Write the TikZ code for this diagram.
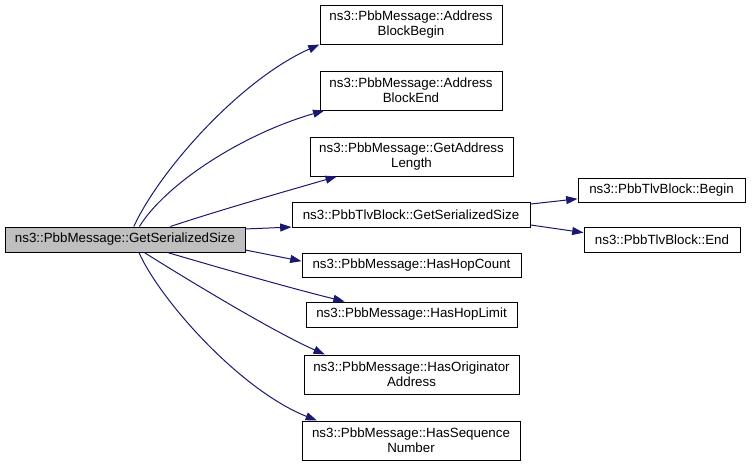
\documentclass[tikz,border=0pt]{standalone}
\usepackage{fontspec}
\setmainfont{Liberation Sans}
\usepackage[svgnames]{xcolor}
\usetikzlibrary{arrows.meta}

\begin{document}
\begin{tikzpicture}[x=0.75pt, y=-0.75pt, font=\fontsize{10}{11.25}\selectfont,
        fn/.style={draw, line width=0.75pt, inner sep=0pt, align=center},
        boxsize/.style 2 args={minimum width=#1*0.75pt, minimum height=#2*0.75pt},
        call/.style={color=MidnightBlue, line width=0.75pt, -{Triangle[length=8.5pt,width=6pt]}}]
        \useasboundingbox (0,0) rectangle (752,465);
        % caller
        \node[fn, fill=black!25, boxsize={240}{25}] (main) at (125,239.5) {ns3::PbbMessage::GetSerializedSize};
        % callees
        \node[fn, boxsize={182}{39}] (abb) at (411,24.5) {ns3::PbbMessage::Address\\BlockBegin};
        \node[fn, boxsize={182}{39}] (abe) at (411,90.5) {ns3::PbbMessage::Address\\BlockEnd};
        \node[fn, boxsize={203}{39}] (gal) at (411.5,156.5) {ns3::PbbMessage::GetAddress\\Length};
        \node[fn, boxsize={238}{25}] (tgs) at (411,214.5) {ns3::PbbTlvBlock::GetSerializedSize};
        \node[fn, boxsize={167}{24}] (beg) at (661.5,190) {ns3::PbbTlvBlock::Begin};
        \node[fn, boxsize={156}{25}] (end) at (662,239.5) {ns3::PbbTlvBlock::End};
        \node[fn, boxsize={219}{24}] (hhc) at (411.5,265) {ns3::PbbMessage::HasHopCount};
        \node[fn, boxsize={211}{25}] (hhl) at (411.5,314.5) {ns3::PbbMessage::HasHopLimit};
        \node[fn, boxsize={215}{39}] (hoa) at (411.5,374.5) {ns3::PbbMessage::HasOriginator\\Address};
        \node[fn, boxsize={218}{39}] (hsn) at (411,440.5) {ns3::PbbMessage::HasSequence\\Number};
        % calls
        \draw[call] (main.56) .. controls (160,170) and (240,80) .. (abb.south west);
        \draw[call] (main.42) .. controls (165,185) and (240,135) .. (abe.-167);
        \draw[call] (main.16) .. controls (220,210) and (290,190) .. (gal.-165);
        \draw[call] (main.5) -- (tgs.-174);
        \draw[call] (main.-5) -- (hhc.178);
        \draw[call] (main.-17) .. controls (220,268) and (290,288) .. (hhl.169);
        \draw[call] (main.-34) .. controls (180,275) and (270,330) .. (hoa.167);
        \draw[call] (main.-43) .. controls (160,300) and (240,390) .. (hsn.168);
        \draw[call] (tgs.5) -- (beg.-174);
        \draw[call] (tgs.-5) -- (end.175);
\end{tikzpicture}
\end{document}
